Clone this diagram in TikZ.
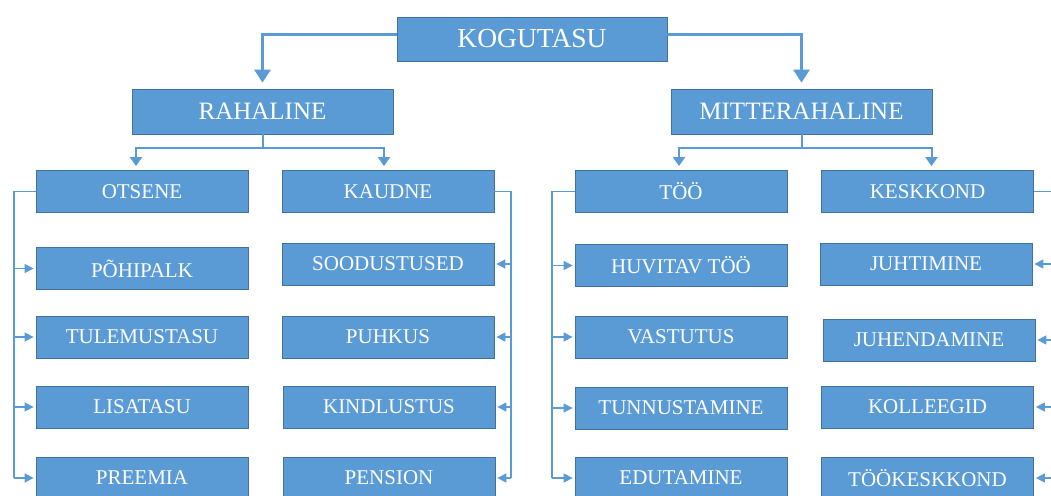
\documentclass[tikz,border=0pt]{standalone}
\usepackage{fontspec}
\setmainfont{Liberation Serif}
\usetikzlibrary{arrows.meta}
\definecolor{boxfill}{HTML}{5B9BD5}
\definecolor{boxline}{HTML}{41719C}
\definecolor{conn}{HTML}{5B9BD5}
\begin{document}
\begin{tikzpicture}[x=1pt,y=-1pt,
 box/.style={draw=boxline,line width=0.8pt,fill=boxfill,text=white,inner sep=0pt,anchor=center},
 big/.style={box,minimum width=261pt,minimum height=45pt,font=\fontsize{25}{25}\selectfont},
 small/.style={box,minimum width=212pt,minimum height=42pt,font=\fontsize{21}{21}\selectfont},
 mainarr/.style={draw=conn,line width=3pt,-{Triangle[width=16pt,length=13pt]},shorten >=6pt},
 subline/.style={draw=conn,line width=2pt},
 subarr/.style={draw=conn,line width=2pt,-{Triangle[width=12pt,length=9pt]},shorten >=4pt},
 sideline/.style={draw=conn,line width=1.5pt},
 sidearr/.style={draw=conn,line width=1.5pt,-{Triangle[width=9pt,length=9pt]},shorten >=2pt}]
\useasboundingbox (0,0) rectangle (1051,495);
\clip (0,0) rectangle (1051,495);
\fill[white] (0,0) rectangle (1051,495);

% top levels
\node[big,minimum width=270pt,minimum height=44pt,font=\fontsize{27.5}{27.5}\selectfont] (kog) at (532,39) {KOGUTASU};
\node[big] (rah) at (262.5,111.5) {RAHALINE};
\node[big] (mit) at (801.5,111.5) {MITTERAHALINE};

\node[small] (ots) at (142,191.5) {OTSENE};
\node[small] (kau) at (388,191.5) {KAUDNE};
\node[small] (too) at (681,191.5) {TÖÖ};
\node[small] (kes) at (927.5,191.5) {KESKKOND};

% OTSENE column
\node[small] (pohi) at (142,268.5) {PÕHIPALK};
\node[small] (tule) at (142,337) {TULEMUSTASU};
\node[small] (lisa) at (142,407) {LISATASU};
\node[small] (pree) at (142,478) {PREEMIA};

% KAUDNE column
\node[small] (sood) at (388,264) {SOODUSTUSED};
\node[small] (puhk) at (388,337) {PUHKUS};
\node[small] (kind) at (389,407) {KINDLUSTUS};
\node[small] (pens) at (389,478) {PENSION};

% TÖÖ column
\node[small] (huvi) at (681,265.5) {HUVITAV TÖÖ};
\node[small] (vast) at (681,337) {VASTUTUS};
\node[small] (tunn) at (681,408) {TUNNUSTAMINE};
\node[small] (edut) at (681,478) {EDUTAMINE};

% KESKKOND column
\node[small] (juht) at (926,264) {JUHTIMINE};
\node[small] (juhe) at (929,340) {JUHENDAMINE};
\node[small] (koll) at (927.5,407) {KOLLEEGID};
\node[small] (tkes) at (927.5,478) {TÖÖKESKKOND};

% main connectors
\draw[mainarr] ([yshift=4pt]kog.west) -| (rah.north);
\draw[mainarr] ([yshift=4pt]kog.east) -| (mit.north);

% second level
\draw[subline] (rah.south) -- ++(0,13.5) coordinate (rj);
\draw[subarr] (rj) -| ([xshift=-6pt]ots.north);
\draw[subarr] (rj) -| ([xshift=-4pt]kau.north);
\draw[subline] (mit.south) -- ++(0,13.5) coordinate (mj);
\draw[subarr] (mj) -| ([xshift=-2pt]too.north);
\draw[subarr] (mj) -| ([xshift=4pt]kes.north);

% side rails
\coordinate (Lx) at (14,0);
\coordinate (Rx) at (511,0);
\coordinate (Tx) at (552,0);
\coordinate (Kx) at (1055,0);

\draw[sideline] (ots.west) -| (pree.west -| Lx);
\foreach \n in {pohi,tule,lisa,pree} \draw[sidearr] (\n.west -| Lx) -- (\n.west);

\draw[sideline] (kau.east) -| (pens.east -| Rx);
\foreach \n in {sood,puhk,kind,pens} \draw[sidearr] (\n.east -| Rx) -- (\n.east);

\draw[sideline] (too.west) -| (edut.west -| Tx);
\foreach \n in {huvi,vast,tunn,edut} \draw[sidearr] (\n.west -| Tx) -- (\n.west);

\draw[sideline] (kes.east) -| (tkes.east -| Kx);
\foreach \n in {juht,juhe,koll,tkes} \draw[sidearr] (\n.east -| Kx) -- (\n.east);
\end{tikzpicture}
\end{document}
